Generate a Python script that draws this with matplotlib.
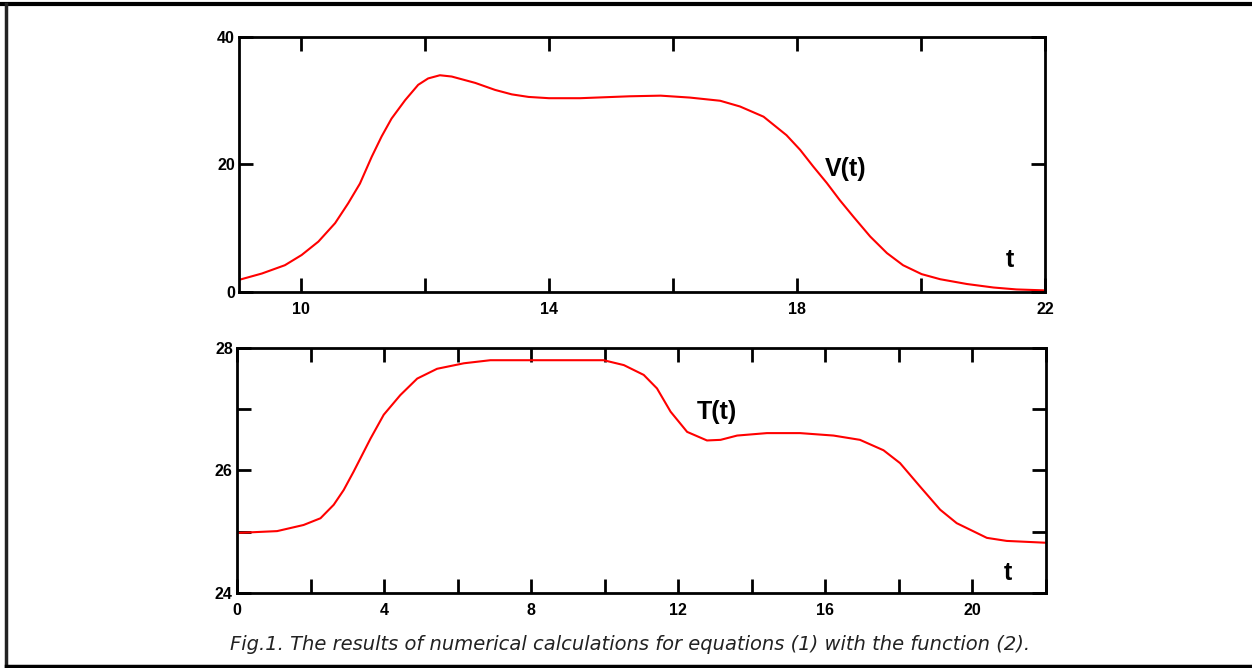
import matplotlib.pyplot as plt
from matplotlib.lines import Line2D
from matplotlib.ticker import FixedLocator, FuncFormatter

# V(t)
v_t = [9.0, 9.37, 9.74, 10.01, 10.28, 10.55, 10.76, 10.95, 11.14, 11.3, 11.46,
       11.68, 11.89, 12.05, 12.24, 12.43, 12.81, 13.13, 13.4, 13.67, 14.0,
       14.5, 15.3, 15.8, 16.27, 16.76, 17.08, 17.46, 17.83, 18.05, 18.26,
       18.48, 18.69, 18.91, 19.18, 19.45, 19.71, 20.01, 20.31, 20.74, 21.17,
       21.54, 22.0]
v_val = [1.9, 2.9, 4.2, 5.8, 7.9, 10.8, 13.9, 17.0, 21.2, 24.4, 27.2,
         30.1, 32.5, 33.5, 34.0, 33.8, 32.8, 31.7, 31.0, 30.6, 30.4,
         30.4, 30.7, 30.8, 30.5, 30.0, 29.1, 27.5, 24.6, 22.3, 19.7,
         17.1, 14.4, 11.8, 8.7, 6.1, 4.2, 2.8, 2.0, 1.25, 0.7,
         0.4, 0.25]

# T(t)
temp_t = [0.0, 1.09, 1.81, 2.27, 2.63, 2.9, 3.17, 3.4, 3.63, 3.99, 4.44,
          4.9, 5.44, 6.17, 6.89, 9.97, 10.52, 11.06, 11.42, 11.79, 12.24,
          12.78, 13.15, 13.6, 14.41, 15.31, 16.22, 16.94, 17.58, 18.03,
          18.57, 19.12, 19.57, 20.39, 20.93, 22.0]
temp_val = [24.98, 25.01, 25.11, 25.22, 25.44, 25.68, 25.98, 26.25, 26.52, 26.91, 27.23,
            27.5, 27.66, 27.75, 27.8, 27.8, 27.72, 27.56, 27.34, 26.96, 26.63,
            26.49, 26.5, 26.57, 26.61, 26.61, 26.57, 26.5, 26.33, 26.12,
            25.74, 25.36, 25.14, 24.9, 24.85, 24.82]

v_xticks = [10, 12, 14, 16, 18, 20, 22]
v_xlabels = [10, 14, 18, 22]
v_yticks = [0, 20, 40]
temp_xticks = [0, 2, 4, 6, 8, 10, 12, 14, 16, 18, 20, 22]
temp_xlabels = [0, 4, 8, 12, 16, 20]
temp_yticks = [24, 25, 26, 27, 28]
temp_ylabels = [24, 26, 28]

caption = "Fig.1. The results of numerical calculations for equations (1) with the function (2)."

fig = plt.figure(figsize=(12.52, 6.68), dpi=100)

tick_font = dict(family="Liberation Sans", weight="bold", size=11.5)
label_font = dict(family="Liberation Sans", weight="bold", size=18)


def style_axes(ax, xticks, xlabels, yticks, ylabels):
    for s in ax.spines.values():
        s.set_linewidth(2)
    ax.xaxis.set_major_locator(FixedLocator(xticks))
    ax.yaxis.set_major_locator(FixedLocator(yticks))
    ax.xaxis.set_major_formatter(FuncFormatter(lambda v, p: f"{v:g}" if v in xlabels else ""))
    ax.yaxis.set_major_formatter(FuncFormatter(lambda v, p: f"{v:g}" if v in ylabels else ""))
    ax.tick_params(direction="in", length=10, width=2, top=True, right=True)
    ax.tick_params(axis="x", pad=7)
    ax.tick_params(axis="y", pad=3)
    for lab in ax.get_xticklabels() + ax.get_yticklabels():
        lab.set(**tick_font)


ax1 = fig.add_axes([0.1909, 0.5629, 0.6438, 0.3817])
ax1.plot(v_t, v_val, color="red", lw=1.5)
ax1.set_xlim(9, 22)
ax1.set_ylim(0, 40)
style_axes(ax1, v_xticks, v_xlabels, v_yticks, v_yticks)
ax1.text(18.79, 19.3, "V(t)", ha="center", va="center", **label_font)
ax1.text(21.44, 5.0, "t", ha="center", va="center", **label_font)

ax2 = fig.add_axes([0.1893, 0.1123, 0.6462, 0.3668])
ax2.plot(temp_t, temp_val, color="red", lw=1.5)
ax2.set_xlim(0, 22)
ax2.set_ylim(24, 28)
style_axes(ax2, temp_xticks, temp_xlabels, temp_yticks, temp_ylabels)
ax2.text(13.05, 26.96, "T(t)", ha="center", va="center", **label_font)
ax2.text(20.97, 24.33, "t", ha="center", va="center", **label_font)

fig.text(0.503, 1 - 645 / 668, caption, ha="center", va="center", fontsize=14,
         style="italic", family="DejaVu Sans", color="#222222")

# frame round the figure (top, left and bottom edges)
fig.add_artist(Line2D([0, 1], [1 - 4 / 668, 1 - 4 / 668], color="black", lw=3, transform=fig.transFigure))
fig.add_artist(Line2D([6 / 1252, 6 / 1252], [1 - 4 / 668, 2 / 668], color="#222222", lw=2.5, transform=fig.transFigure))
fig.add_artist(Line2D([6 / 1252, 1], [2 / 668, 2 / 668], color="black", lw=2.5, transform=fig.transFigure))

fig.savefig("out.png", dpi=100)
